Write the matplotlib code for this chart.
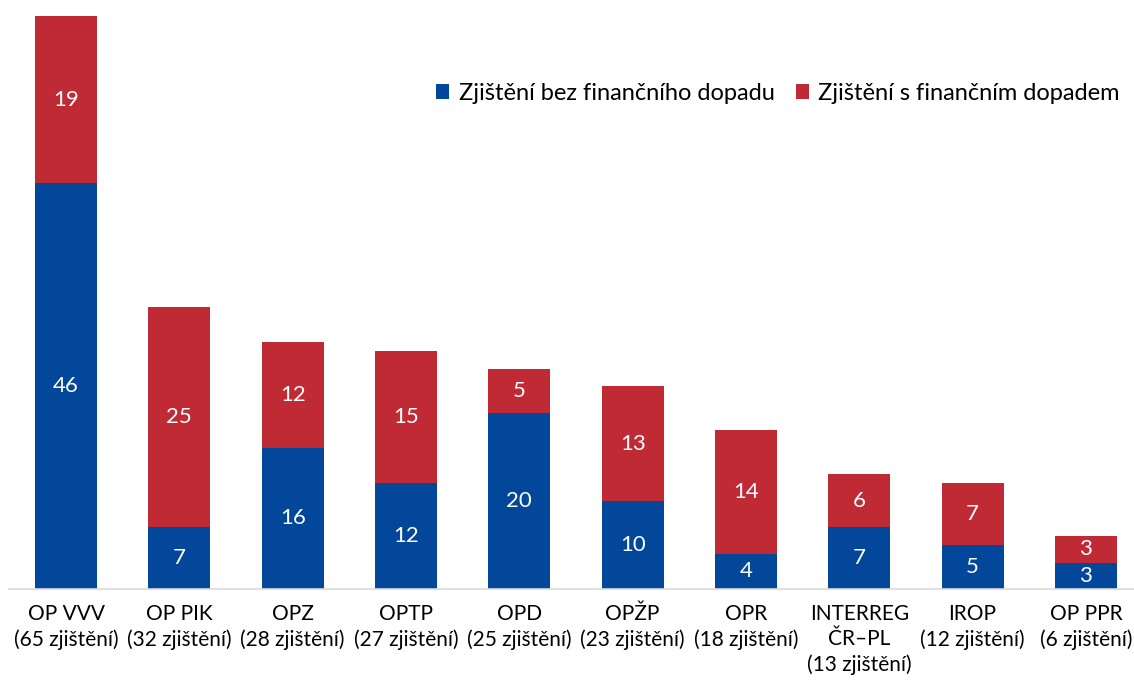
import matplotlib
matplotlib.use("Agg")
import matplotlib.pyplot as plt

categories = ["OP VVV\n(65 zjištění)", "OP PIK\n(32 zjištění)", "OPZ\n(28 zjištění)",
              "OPTP\n(27 zjištění)", "OPD\n(25 zjištění)", "OPŽP\n(23 zjištění)",
              "OPR\n(18 zjištění)", "INTERREG\nČR–PL\n(13 zjištění)", "IROP\n(12 zjištění)",
              "OP PPR\n(6 zjištění)"]
bez_dopadu = [46, 7, 16, 12, 20, 10, 4, 7, 5, 3]
s_dopadem = [19, 25, 12, 15, 5, 13, 14, 6, 7, 3]
legend_labels = ["Zjištění bez finančního dopadu", "Zjištění s finančním dopadem"]

BLUE = "#03479A"
RED = "#BF2A35"
FONT = ["Lato", "DejaVu Sans"]
plt.rcParams["font.family"] = FONT

fig = plt.figure(figsize=(11.34, 6.8), dpi=100)
ax = fig.add_axes([9/1134, 91/680, (1134-9)/1134, (589-16)/680])

x = list(range(len(categories)))
b1 = ax.bar(x, bez_dopadu, width=0.547, color=BLUE, label=legend_labels[0])
b2 = ax.bar(x, s_dopadem, width=0.547, bottom=bez_dopadu, color=RED, label=legend_labels[1])
ax.bar_label(b1, label_type="center", color="white", fontsize=16)
ax.bar_label(b2, label_type="center", color="white", fontsize=16)

ax.set_xlim(-0.503, 9.424)
ax.set_ylim(0, 65)
ax.set_xticks(x)
ax.set_xticklabels(categories, fontsize=15, linespacing=1.3)
ax.tick_params(axis="x", length=0, pad=11)
ax.set_yticks([])
for s in ["top", "right", "left"]:
    ax.spines[s].set_visible(False)
ax.spines["bottom"].set_color("#D9D9D9")
ax.spines["bottom"].set_linewidth(1.2)

ax.legend(loc="center right", bbox_to_anchor=(1.0, 0.865), ncol=2, frameon=False,
          fontsize=17, handlelength=0.55, handleheight=0.55, handletextpad=0.4,
          columnspacing=0.9, borderaxespad=0.2)

fig.savefig("out.png", dpi=100)
